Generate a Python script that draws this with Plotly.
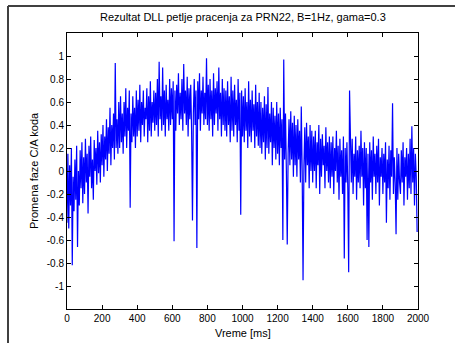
import plotly.graph_objects as go

title_text = "Rezultat DLL petlje pracenja za PRN22, B=1Hz, gama=0.3"
x_label = "Vreme [ms]"
y_label = "Promena faze C/A koda"

step_ms = 5
seg0 = [-0.45, 0.15, -0.5, 0.05, -0.3, 0.2, -0.82, -0.05, -0.35, 0.1, -0.25, 0.22, -0.66, 0.0, -0.3, 0.18, -0.15, 0.25, -0.28, 0.12]
seg1 = [-0.2, 0.28, -0.1, 0.15, -0.37, 0.22, -0.05, 0.3, -0.15, 0.1, -0.25, 0.27, 0.0, 0.2, -0.12, 0.35, -0.02, 0.25, -0.1, 0.32]
seg2 = [0.05, 0.4, -0.05, 0.3, 0.1, 0.45, 0.0, 0.38, 0.15, 0.55, 0.05, 0.4, 0.2, 0.5, 0.1, 0.94, 0.2, 0.45, 0.15, 0.6]
seg3 = [0.2, 0.65, 0.25, 0.5, 0.15, 0.6, 0.3, 0.72, 0.2, 0.55, 0.35, 0.7, -0.32, 0.5, 0.25, 0.65, 0.3, 0.55, 0.2, 0.7]
seg4 = [0.3, 0.62, 0.35, 0.75, 0.25, 0.6, 0.4, 0.7, 0.3, 0.55, 0.45, 0.72, 0.25, 0.65, 0.35, 0.78, 0.3, 0.6, 0.42, 0.7]
seg5 = [0.35, 0.68, 0.4, 0.8, 0.3, 0.95, 0.45, 0.65, 0.35, 0.9, 0.4, 0.7, 0.3, 0.75, 0.45, 0.62, 0.35, 0.8, 0.4, 0.72]
seg6 = [0.45, 0.78, -0.61, 0.7, 0.35, 0.75, 0.5, 0.85, 0.4, 0.68, 0.45, 0.8, 0.35, 0.93, 0.5, 0.7, 0.4, 0.82, 0.3, 0.72]
seg7 = [0.45, 0.75, 0.35, -0.43, 0.5, 0.8, 0.4, 0.7, -0.67, 0.78, 0.45, 0.85, 0.35, 0.7, 0.5, 0.82, 0.4, 0.68, 0.45, 0.98]
seg8 = [0.4, 0.75, 0.35, 0.8, 0.45, 0.7, 0.3, 0.85, 0.4, 0.72, 0.5, 0.78, 0.35, 0.9, 0.45, 0.68, 0.3, 0.8, 0.4, 0.72]
seg9 = [0.35, 0.7, 0.3, 0.78, 0.4, 0.65, 0.25, 0.82, 0.35, 0.7, 0.3, 0.75, 0.4, 0.62, 0.25, 0.8, 0.35, 0.68, -0.38, 0.7]
seg10 = [0.3, 0.65, 0.25, 0.72, 0.35, 0.6, 0.2, 0.78, 0.3, 0.62, 0.25, 0.7, 0.35, 0.58, 0.2, 0.75, 0.3, 0.6, 0.22, 0.68]
seg11 = [0.2, 0.6, 0.15, 0.55, 0.25, 0.65, 0.1, 0.58, 0.2, 0.73, 0.15, 0.5, 0.25, 0.6, 0.05, 0.55, 0.2, 0.48, 0.1, 0.6]
seg12 = [0.15, 0.5, 0.05, 0.55, 0.2, 0.45, -0.6, 0.97, 0.1, 0.5, 0.0, -0.64, 0.15, 0.45, 0.05, 0.52, 0.1, 0.42, -0.05, 0.48]
seg13 = [0.05, 0.4, -0.05, 0.45, 0.1, 0.35, -0.1, 0.56, 0.0, -0.95, 0.05, 0.38, -0.1, 0.42, 0.05, 0.3, -0.15, 0.4, 0.0, 0.35]
seg14 = [-0.1, 0.3, 0.0, 0.35, -0.15, 0.25, 0.05, 0.4, -0.2, 0.28, -0.05, 0.32, 0.05, 0.22, -0.15, 0.38, 0.0, 0.25, -0.1, 0.3]
seg15 = [-0.15, 0.25, -0.05, 0.3, -0.2, 0.2, 0.0, 0.35, -0.1, 0.22, -0.25, 0.28, -0.05, 0.18, -0.2, 0.3, -0.76, 0.2, -0.1, 0.25]
seg16 = [-0.15, -0.88, 0.7, 0.2, -0.1, 0.28, -0.2, 0.15, -0.05, 0.3, -0.25, 0.18, -0.1, 0.22, -0.15, 0.35, -0.05, 0.2, -0.3, 0.25]
seg17 = [-0.15, 0.2, -0.6, 0.15, -0.66, 0.25, -0.1, 0.18, -0.25, 0.3, -0.05, 0.15, -0.2, 0.22, -0.1, 0.28, -0.3, 0.12, -0.05, 0.2]
seg18 = [-0.2, 0.15, -0.1, 0.25, -0.45, 0.1, -0.15, 0.22, -0.25, 0.18, -0.05, 0.59, -0.2, 0.12, -0.1, -0.55, 0.2, -0.25, 0.15, -0.1]
seg19 = [-0.2, 0.18, -0.1, 0.25, -0.3, 0.12, -0.05, 0.2, -0.25, 0.15, -0.15, 0.28, -0.2, 0.39, -0.1, 0.2, -0.3, 0.15, -0.05, -0.53]

values = (seg0 + seg1 + seg2 + seg3 + seg4 + seg5 + seg6 + seg7 + seg8 + seg9 +
          seg10 + seg11 + seg12 + seg13 + seg14 + seg15 + seg16 + seg17 + seg18 + seg19)
times = [i * step_ms for i in range(len(values))]

x_ticks = [0, 200, 400, 600, 800, 1000, 1200, 1400, 1600, 1800, 2000]
y_ticks = [-1, -0.8, -0.6, -0.4, -0.2, 0, 0.2, 0.4, 0.6, 0.8, 1]
y_tick_labels = ["-1", "-0.8", "-0.6", "-0.4", "-0.2", "0", "0.2", "0.4", "0.6", "0.8", "1"]

FONT = "Liberation Sans, Arial, sans-serif"

fig = go.Figure()
fig.add_trace(go.Scatter(x=times, y=values, mode="lines",
                         line=dict(color="#0000ff", width=1.2), showlegend=False))

L, R, T, B = 67, 37, 33, 34
W, H = 455, 343
pw, ph = W - L - R, H - T - B

def px(xp):
    return (xp - L) / pw

def py(yp):
    return (H - B - yp) / ph

axis_common = dict(showline=True, linecolor="black", linewidth=1, mirror="ticks",
                   ticks="inside", ticklen=4, tickcolor="black", showgrid=False,
                   zeroline=False, tickfont=dict(family=FONT, size=10, color="black"))

fig.update_layout(
    width=W, height=H,
    margin=dict(l=L, r=R, t=T, b=B),
    paper_bgcolor="white", plot_bgcolor="white",
    xaxis=dict(range=[0, 2000], tickvals=x_ticks, ticktext=[str(v) for v in x_ticks], **axis_common),
    yaxis=dict(range=[-1.2, 1.2], tickvals=y_ticks, ticktext=y_tick_labels, **axis_common),
    annotations=[
        dict(text=title_text, x=0.5, y=py(17), xref="paper", yref="paper",
             showarrow=False, font=dict(family=FONT, size=11, color="black"),
             xanchor="center", yanchor="middle"),
        dict(text=x_label, x=0.5, y=py(333), xref="paper", yref="paper",
             showarrow=False, font=dict(family=FONT, size=11, color="black"),
             xanchor="center", yanchor="middle"),
        dict(text=y_label, x=px(34), y=py(171), xref="paper", yref="paper",
             showarrow=False, textangle=-90, font=dict(family=FONT, size=11, color="black"),
             xanchor="center", yanchor="middle"),
    ],
    shapes=[
        dict(type="line", xref="paper", yref="paper", x0=px(8), x1=px(8), y0=py(6), y1=py(343),
             line=dict(color="#404040", width=2)),
        dict(type="line", xref="paper", yref="paper", x0=px(8), x1=px(455), y0=py(6), y1=py(6),
             line=dict(color="#404040", width=2)),
    ],
)

fig.write_html("out.html")
